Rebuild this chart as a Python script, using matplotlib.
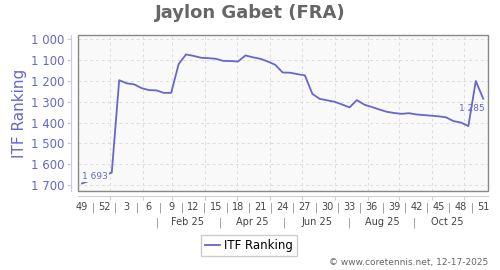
import matplotlib
matplotlib.use("Agg")
import matplotlib.pyplot as plt
import matplotlib.dates as mdates
from matplotlib.patches import Rectangle
import pandas as pd

# weekly ranking, offsets in weeks from the first entry
start = pd.Timestamp("2024-12-06")
week_offsets = [0, 4, 5, 6, 7, 8, 9, 10, 11, 12, 13, 14, 15, 16, 17, 18, 19, 20,
                21, 22, 23, 24, 25, 26, 27, 28, 29, 30, 31, 32, 33, 34, 35, 36, 37,
                38, 39, 40, 41, 42, 43, 44, 45, 46, 47, 48, 49, 50, 51, 52, 53, 54]
ranking = [1693, 1641, 1196, 1211, 1216, 1234, 1244, 1245, 1257, 1257, 1119, 1072,
           1079, 1088, 1090, 1093, 1103, 1104, 1106, 1077, 1086, 1093, 1106, 1122,
           1159, 1160, 1167, 1173, 1262, 1286, 1293, 1300, 1313, 1327, 1292, 1314,
           1325, 1337, 1348, 1354, 1358, 1355, 1361, 1364, 1367, 1370, 1375, 1393,
           1400, 1417, 1200, 1285]

week_labels = ["49", "52", "3", "6", "9", "12", "15", "18", "21", "24", "27",
               "30", "33", "36", "39", "42", "45", "48", "51"]
month_labels = ["Feb 25", "Apr 25", "Jun 25", "Aug 25", "Oct 25"]

line_color = "#6666cc"
bg = "#f9f9f9"

x = mdates.date2num([start + pd.Timedelta(weeks=w) for w in week_offsets])

fig = plt.figure(figsize=(5, 2.7), dpi=100)
ax = fig.add_axes([0.156, 0.293, 0.82, 0.577])
ax.set_facecolor(bg)

ax.plot(x, ranking, color=line_color, lw=1.3, label="ITF Ranking", zorder=3)

ax.set_xlim(mdates.date2num(start - pd.Timedelta(days=3.8)),
            mdates.date2num(start + pd.Timedelta(days=382.5)))
ax.set_ylim(1729, 979)

# frame and spines
for s in ax.spines.values():
    s.set_visible(False)
ax.spines["left"].set_visible(True)
ax.spines["left"].set_position(("outward", 5))
ax.spines["left"].set_color("#c8c8ec")
ax.spines["bottom"].set_visible(True)
ax.spines["bottom"].set_position(("outward", 4))
ax.spines["bottom"].set_color("#d0d0d0")
ax.add_patch(Rectangle((0, 0), 1, 1, transform=ax.transAxes, fill=False,
                       ec="#888888", lw=1, clip_on=False, zorder=5))

# y axis
yt = list(range(1000, 1800, 100))
ax.set_yticks(yt, labels=[f"{v:,}".replace(",", " ") for v in yt])
ax.tick_params(axis="y", length=3, color="#c8c8ec", labelcolor=line_color,
               labelsize=8.5, pad=2)

# x axis: month gridlines, week labels with separators
month_starts = mdates.date2num(pd.date_range("2025-01-01", "2025-12-01", freq="MS"))
ax.set_xticks(month_starts)
ax.tick_params(axis="x", which="major", length=3, color="#d0d0d0", labelbottom=False)

week_pos = [start + pd.Timedelta(days=21 * i) for i in range(len(week_labels))]
pos, labs = [], []
for i, lab in enumerate(week_labels):
    pos.append(week_pos[i])
    labs.append(lab)
    if i < len(week_labels) - 1:
        pos.append(week_pos[i] + pd.Timedelta(days=10.5))
        labs.append("|")
ax.set_xticks(mdates.date2num(pos), labels=labs, minor=True)
ax.tick_params(axis="x", which="minor", length=0, pad=4, labelsize=7,
               labelcolor="#444444")
for t in ax.get_xticklabels(minor=True):
    if t.get_text() == "|":
        t.set_color("#888888")

mid_months = pd.date_range("2025-01-15", "2025-11-15", freq="MS") + pd.Timedelta(days=14)
sec = ax.secondary_xaxis("bottom")
mlabs = []
for i in range(len(mid_months)):
    mlabs.append("|" if i % 2 == 0 else month_labels[i // 2])
sec.set_xticks(mdates.date2num(mid_months), labels=mlabs)
sec.tick_params(length=0, pad=19, labelsize=7, labelcolor="#444444")
sec.spines["bottom"].set_visible(False)
for t in sec.get_xticklabels():
    if t.get_text() == "|":
        t.set_color("#888888")

ax.grid(True, which="major", color="#dddddd", linestyle=(0, (3, 3)), lw=0.7)
ax.set_axisbelow(True)

# first / last value labels
ax.annotate("1 693", (x[0], ranking[0]), xytext=(0, 2), textcoords="offset points",
            ha="left", va="bottom", fontsize=6.5, color=line_color, zorder=4,
            bbox=dict(boxstyle="square,pad=0.1", fc=bg, ec="none"))
ax.annotate("1 285", (x[-1], ranking[-1]), xytext=(1, -4), textcoords="offset points",
            ha="right", va="top", fontsize=6.5, color=line_color, zorder=4)

fig.text(0.5, 1 - 13 / 270, "Jaylon Gabet (FRA)", ha="center", va="center",
         fontsize=13, fontweight="bold", color="#666666")
fig.text(20 / 500, 1 - 113 / 270, "ITF Ranking", rotation=90, ha="center",
         va="center", fontsize=11, color=line_color)

fig.legend(loc="center", bbox_to_anchor=(249 / 500, 1 - 245.5 / 270), fontsize=8.5,
           fancybox=False, edgecolor="#cccccc", framealpha=1, handlelength=1.3,
           handletextpad=0.35, borderpad=0.35)

fig.text(488 / 500, 1 - 262 / 270, "\u00a9 www.coretennis.net, 12-17-2025",
         ha="right", va="center", fontsize=6.5, color="#666666")

fig.savefig("out.png", dpi=100)
